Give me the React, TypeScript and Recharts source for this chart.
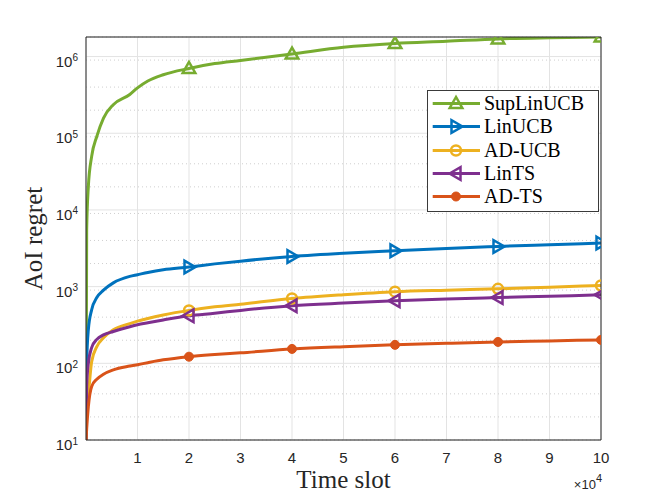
import { LineChart, Line, XAxis, YAxis, CartesianGrid, Legend } from "recharts";

// time slot in units of 1e4
const timeSlots = [0.001, 0.013, 0.045, 0.11, 0.21, 0.34, 0.53, 0.85, 1, 1.2, 1.5, 2, 2.5, 3, 4, 5, 6, 7, 8, 9, 10];
const supLinUcb = [10, 5500, 2.0e4, 5.0e4, 9.1e4, 1.58e5, 2.36e5, 3.2e5, 3.9e5, 4.8e5, 5.8e5, 7.0e5, 8.1e5, 8.9e5, 1.08e6, 1.32e6, 1.48e6, 1.58e6, 1.7e6, 1.76e6, 1.8e6];
const linUcb = [10, 100, 273, 500, 720, 900, 1120, 1360, 1430, 1530, 1660, 1800, 1980, 2150, 2470, 2720, 2930, 3150, 3340, 3520, 3700];
const adUcb = [10, 20, 37, 105, 165, 215, 273, 330, 355, 385, 427, 490, 545, 590, 700, 785, 860, 900, 935, 985, 1035];
const linTs = [10, 50, 100, 160, 205, 235, 260, 300, 318, 338, 368, 417, 450, 490, 563, 610, 653, 690, 721, 750, 781];
const adTs = [10, 14, 27, 50, 62, 72, 82, 92, 96, 102, 111, 122, 130, 137, 154, 165, 174, 182, 190, 196, 202];

const markerSlots = [2, 4, 6, 8, 10];
const xTicks = [1, 2, 3, 4, 5, 6, 7, 8, 9, 10];
const yMajor = [10, 100, 1e3, 1e4, 1e5, 1e6];
const yMinor = [2, 3, 4, 5, 6, 7, 8, 9].flatMap((m) => [10, 100, 1e3, 1e4, 1e5].map((d) => m * d)).sort((a, b) => a - b);
const yAll = [...yMajor, ...yMinor].sort((a, b) => a - b);
const yDomain = [10, 1.8e6];

const series = [
  { key: "sup", name: "SupLinUCB", color: "#77AC30", marker: "up", values: supLinUcb },
  { key: "lin", name: "LinUCB", color: "#0072BD", marker: "right", values: linUcb },
  { key: "adu", name: "AD-UCB", color: "#EDB120", marker: "circle", values: adUcb },
  { key: "lts", name: "LinTS", color: "#7E2F8E", marker: "left", values: linTs },
  { key: "adt", name: "AD-TS", color: "#D95319", marker: "dot", values: adTs },
];

const data = timeSlots.map((x, i) => {
  const row: Record<string, number> = { x };
  series.forEach((s) => (row[s.key] = s.values[i]));
  return row;
});

const SANS = "'Liberation Sans', Arial, sans-serif";
const SERIF = "'Liberation Serif', 'Times New Roman', serif";
const AXIS = "#262626";

function Marker({ shape, cx, cy, color }: { shape: string; cx: number; cy: number; color: string }) {
  const sw = 2.5;
  if (shape === "up")
    return <polygon points={`${cx},${cy - 6.5} ${cx - 6.3},${cy + 4.5} ${cx + 6.3},${cy + 4.5}`} fill="none" stroke={color} strokeWidth={sw} />;
  if (shape === "right")
    return <polygon points={`${cx + 6.5},${cy} ${cx - 4.5},${cy - 6.3} ${cx - 4.5},${cy + 6.3}`} fill="none" stroke={color} strokeWidth={sw} />;
  if (shape === "left")
    return <polygon points={`${cx - 6.5},${cy} ${cx + 4.5},${cy - 6.3} ${cx + 4.5},${cy + 6.3}`} fill="none" stroke={color} strokeWidth={sw} />;
  if (shape === "circle") return <circle cx={cx} cy={cy} r={5} fill="none" stroke={color} strokeWidth={sw} />;
  return <circle cx={cx} cy={cy} r={4.5} fill={color} stroke={color} strokeWidth={1} />;
}

function YTick(props: any) {
  const { x, y, payload } = props;
  return (
    <text x={x} y={y + 10} textAnchor="end" fill={AXIS} fontSize={15} fontFamily={SANS}>
      10
      <tspan dy={-5.5} fontSize={10}>
        {Math.round(Math.log10(payload.value))}
      </tspan>
    </text>
  );
}

function XLabel(props: any) {
  const { x, y, width } = props.viewBox;
  return (
    <g>
      <text x={x + width / 2} y={y + 48} textAnchor="middle" fill={AXIS} fontSize={25} fontFamily={SERIF}>
        Time slot
      </text>
      <text x={x + width + 1} y={y + 49} textAnchor="end" fill={AXIS} fontSize={13} fontFamily={SANS}>
        ×10
        <tspan dy={-7} fontSize={11}>
          4
        </tspan>
      </text>
    </g>
  );
}

function YLabel(props: any) {
  const { x, y, height } = props.viewBox;
  const cx = x + 41.7;
  const cy = y + height / 2;
  return (
    <text x={cx} y={cy} transform={`rotate(-90 ${cx} ${cy})`} textAnchor="middle" fill={AXIS} fontSize={25} fontFamily={SERIF}>
      AoI regret
    </text>
  );
}

function LegendBox() {
  const rowH = 23.35;
  return (
    <div
      style={{
        position: "relative",
        width: 172,
        height: 122,
        boxSizing: "border-box",
        border: "1px solid #3a3a3a",
        background: "#fff",
      }}
    >
      {series.map((s, i) => (
        <div key={s.key} style={{ position: "absolute", left: 0, top: 12.3 + i * rowH - 11.5, height: 23, display: "flex", alignItems: "center" }}>
          <svg width={56} height={23} style={{ display: "block" }}>
            <line x1={4.7} x2={52} y1={11.5} y2={11.5} stroke={s.color} strokeWidth={3} />
            <Marker shape={s.marker} cx={28} cy={11.5} color={s.color} />
          </svg>
          <span style={{ fontFamily: SERIF, fontSize: 20, lineHeight: "23px", color: "#000" }}>{s.name}</span>
        </div>
      ))}
    </div>
  );
}

export default function App() {
  return (
    <div style={{ position: "absolute", left: 0, top: 0, width: 664, height: 498, background: "#fff" }}>
      <LineChart width={664} height={498} data={data} margin={{ top: 37, right: 63, left: 0, bottom: 0 }}>
        <CartesianGrid stroke="#e3e3e3" strokeWidth={1} />
        <CartesianGrid yAxisId="minor" vertical={false} stroke="#cfcfcf" strokeDasharray="1 3" />
        <XAxis
          dataKey="x"
          type="number"
          domain={[0, 10]}
          ticks={xTicks}
          allowDataOverflow
          height={58}
          tickLine={false}
          tickSize={0}
          tickMargin={12}
          axisLine={{ stroke: AXIS }}
          tick={{ fill: AXIS, fontSize: 15, fontFamily: SANS }}
          label={{ content: XLabel }}
        />
        <XAxis xAxisId="top" orientation="top" mirror type="number" domain={[0, 10]} ticks={xTicks} allowDataOverflow tick={false} tickSize={5} axisLine={{ stroke: AXIS }} tickLine={{ stroke: AXIS }} />
        <XAxis xAxisId="btm" orientation="bottom" mirror type="number" domain={[0, 10]} ticks={xTicks} allowDataOverflow tick={false} tickSize={5} axisLine={false} tickLine={{ stroke: AXIS }} />
        <YAxis
          type="number"
          scale="log"
          domain={yDomain}
          ticks={yMajor}
          allowDataOverflow
          width={86}
          tickLine={false}
          tickSize={0}
          tickMargin={8}
          axisLine={{ stroke: AXIS }}
          tick={YTick}
          label={{ content: YLabel }}
        />
        <YAxis yAxisId="minor" hide type="number" scale="log" domain={yDomain} ticks={yMinor} allowDataOverflow />
        <YAxis yAxisId="lm" orientation="left" mirror type="number" scale="log" domain={yDomain} ticks={yAll} allowDataOverflow tick={false} tickSize={4} axisLine={false} tickLine={{ stroke: AXIS }} />
        <YAxis yAxisId="rm" orientation="right" mirror type="number" scale="log" domain={yDomain} ticks={yAll} allowDataOverflow tick={false} tickSize={4} axisLine={{ stroke: AXIS }} tickLine={{ stroke: AXIS }} />
        {series.map((s) => (
          <Line
            key={s.key}
            dataKey={s.key}
            name={s.name}
            type="monotone"
            stroke={s.color}
            strokeWidth={3}
            isAnimationActive={false}
            activeDot={false}
            dot={(p: any) =>
              markerSlots.includes(p.payload.x) ? (
                <Marker key={`${s.key}-${p.index}`} shape={s.marker} cx={p.cx} cy={p.cy} color={s.color} />
              ) : (
                <g key={`${s.key}-${p.index}`} />
              )
            }
          />
        ))}
        <Legend layout="vertical" align="center" verticalAlign="middle" wrapperStyle={{ left: 427, top: 90, width: 172, height: 122 }} content={() => <LegendBox />} />
      </LineChart>
    </div>
  );
}
